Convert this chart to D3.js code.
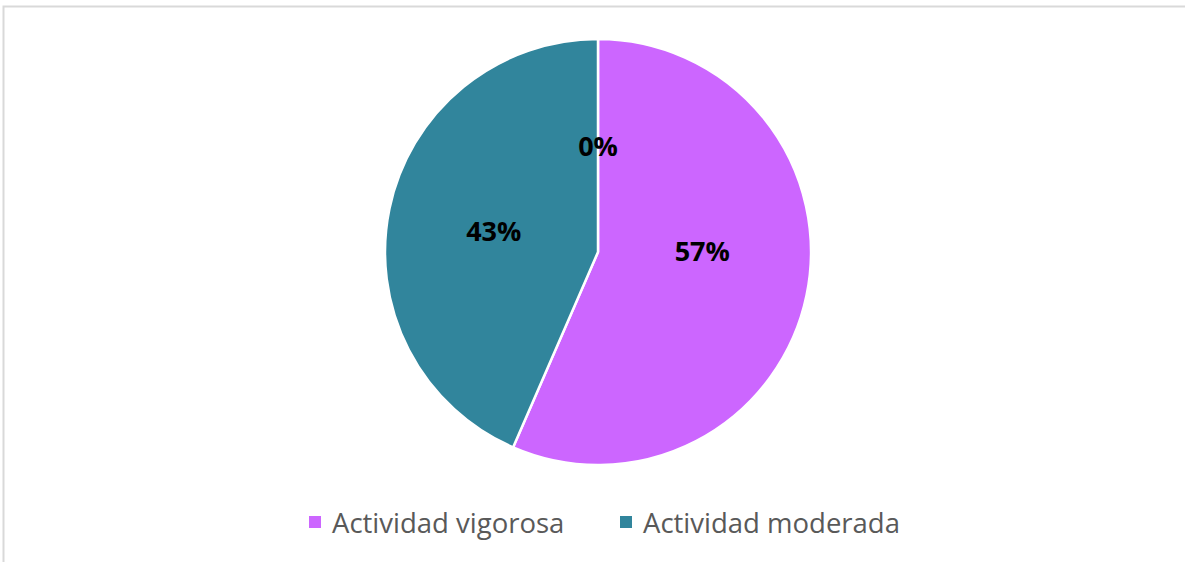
<!DOCTYPE html>
<html>
<head>
<meta charset="utf-8">
<script src="https://cdn.jsdelivr.net/npm/d3@7"></script>
<style>
  html, body { margin: 0; padding: 0; background: #fff; }
  svg { display: block; }
</style>
</head>
<body>
<div id="chart"></div>
<script>
// data
const categories = ["Actividad vigorosa", "Actividad moderada", ""];
const counts = [13, 10, 0];
const colors = ["#CC66FF", "#31859C", "#9BBB59"];

const width = 1185, height = 562;
const cx = 598, cy = 252, radius = 213;

const svg = d3.select("#chart").append("svg")
  .attr("width", width)
  .attr("height", height);

// chart area border (right/bottom edges fall outside the picture)
svg.append("rect")
  .attr("x", 3.5).attr("y", 6.5)
  .attr("width", width + 20).attr("height", height + 20)
  .attr("fill", "none")
  .attr("stroke", "#D9D9D9")
  .attr("stroke-width", 2);

const total = d3.sum(counts);
const pie = d3.pie().sort(null).value(d => d.value);
const arcs = pie(categories.map((c, i) => ({ name: c, value: counts[i], i })));

const arc = d3.arc().innerRadius(0).outerRadius(radius);
const labelArc = d3.arc().innerRadius(radius * 0.5).outerRadius(radius * 0.5);

const g = svg.append("g").attr("transform", `translate(${cx},${cy})`);

g.selectAll("path.slice")
  .data(arcs.filter(d => d.data.value > 0))
  .join("path")
  .attr("class", "slice")
  .attr("d", arc)
  .attr("fill", d => colors[d.data.i])
  .attr("stroke", "#fff")
  .attr("stroke-width", 2.5)
  .attr("stroke-linejoin", "round");

// labels sit near the centroid; the big slice's label was lifted in the original
const fmt = d3.format(".0%");
g.selectAll("text.lbl")
  .data(arcs)
  .join("text")
  .attr("class", "lbl")
  .attr("x", d => labelArc.centroid(d)[0])
  .attr("y", d => labelArc.centroid(d)[1] - (d.data.i === 0 ? 23 : 0))
  .attr("text-anchor", "middle")
  .attr("dominant-baseline", "central")
  .style("font-family", "'Open Sans', 'Noto Sans', sans-serif")
  .style("font-weight", "700")
  .style("font-size", "27px")
  .style("fill", "#000")
  .text(d => fmt(d.data.value / total));

// legend
const legendItems = categories.map((c, i) => ({ name: c, i })).filter(d => d.name);
const legend = svg.append("g").attr("transform", "translate(0,522)");
const itemX = [309, 620];
const li = legend.selectAll("g.item")
  .data(legendItems)
  .join("g")
  .attr("class", "item")
  .attr("transform", (d, k) => `translate(${itemX[k]},0)`);

li.append("rect")
  .attr("x", 0).attr("y", -6)
  .attr("width", 12).attr("height", 12)
  .attr("fill", d => colors[d.i]);

li.append("text")
  .attr("x", 23)
  .attr("y", 0)
  .attr("dominant-baseline", "central")
  .style("font-family", "'Open Sans', 'Noto Sans', sans-serif")
  .style("font-size", "27.5px")
  .style("fill", "#595959")
  .text(d => d.name);
</script>
</body>
</html>
